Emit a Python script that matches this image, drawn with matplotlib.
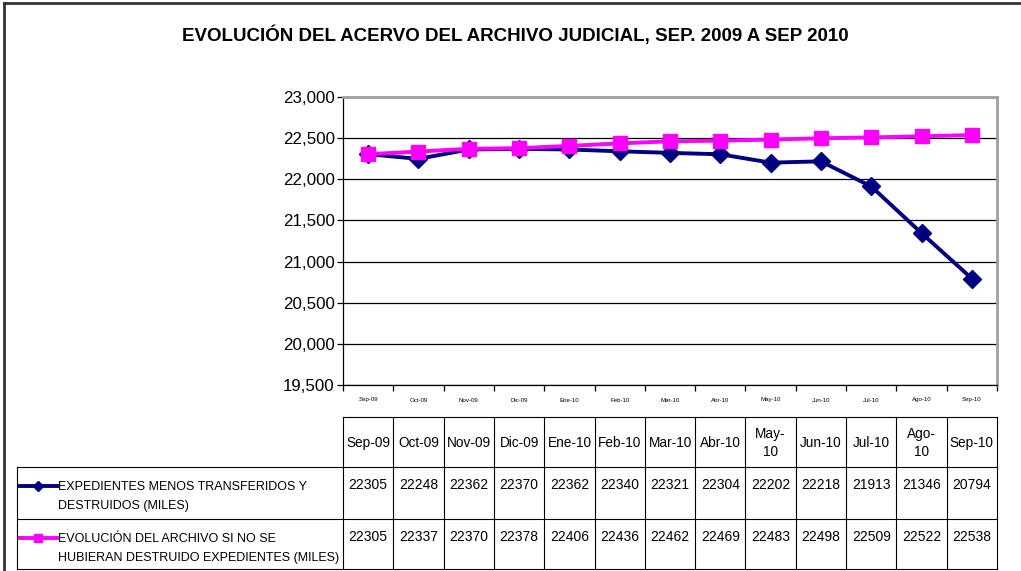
import matplotlib
matplotlib.use('Agg')
import matplotlib.pyplot as plt
from matplotlib.ticker import FuncFormatter, MultipleLocator, FixedLocator

plt.rcParams['font.family'] = ['Liberation Sans', 'DejaVu Sans']

months = ['Sep-09', 'Oct-09', 'Nov-09', 'Dic-09', 'Ene-10', 'Feb-10', 'Mar-10',
          'Abr-10', 'May-10', 'Jun-10', 'Jul-10', 'Ago-10', 'Sep-10']
header_labels = ['Sep-09', 'Oct-09', 'Nov-09', 'Dic-09', 'Ene-10', 'Feb-10', 'Mar-10',
                 'Abr-10', 'May-\n10', 'Jun-10', 'Jul-10', 'Ago-\n10', 'Sep-10']
expedientes = [22305, 22248, 22362, 22370, 22362, 22340, 22321,
               22304, 22202, 22218, 21913, 21346, 20794]
sin_destruir = [22305, 22337, 22370, 22378, 22406, 22436, 22462,
                22469, 22483, 22498, 22509, 22522, 22538]
series_names = ['EXPEDIENTES MENOS TRANSFERIDOS Y\nDESTRUIDOS (MILES)',
                'EVOLUCIÓN DEL ARCHIVO SI NO SE\nHUBIERAN DESTRUIDO EXPEDIENTES (MILES)']
title = 'EVOLUCIÓN DEL ACERVO DEL ARCHIVO JUDICIAL, SEP. 2009 A SEP 2010'

W, H = 1021, 571
navy = '#000080'
magenta = '#FF00FF'

fig = plt.figure(figsize=(W / 100, H / 100), dpi=100)

# plot area in pixels
px0, px1, py0, py1 = 343, 997, 97, 385
ax = fig.add_axes([px0 / W, 1 - py1 / H, (px1 - px0) / W, (py1 - py0) / H])
x = list(range(len(months)))
ax.plot(x, expedientes, color=navy, lw=2.8, marker='D', ms=9, zorder=3)
ax.plot(x, sin_destruir, color=magenta, lw=2.8, marker='s', ms=10.5, zorder=4)
ax.set_xlim(-0.5, len(months) - 0.5)
ax.set_ylim(19500, 23000)
ax.yaxis.set_major_locator(MultipleLocator(500))
ax.yaxis.set_major_formatter(FuncFormatter(lambda v, p: f'{int(v):,}'))
ax.grid(axis='y', color='black', lw=0.9)
ax.set_axisbelow(True)
ax.xaxis.set_major_locator(FixedLocator([i - 0.5 for i in range(len(months) + 1)]))
ax.xaxis.set_minor_locator(FixedLocator(x))
ax.set_xticklabels([])
ax.set_xticklabels(months, minor=True)
ax.tick_params(axis='x', which='major', direction='out', length=4, width=0.9)
ax.tick_params(axis='x', which='minor', length=0, labelsize=4.4, pad=9)
ax.tick_params(axis='y', direction='out', length=4, width=0.9, labelsize=12.2, pad=2)
for s in ['left', 'bottom']:
    ax.spines[s].set_color('black')
    ax.spines[s].set_linewidth(0.9)
for s in ['top', 'right']:
    ax.spines[s].set_color('#a0a0a0')
    ax.spines[s].set_linewidth(2)

# overlay in pixel coords for the table, title and frame
ov = fig.add_axes([0, 0, 1, 1], zorder=-1)
ov.set_xlim(0, W)
ov.set_ylim(H, 0)
ov.axis('off')

ov.plot([3.5, 3.5], [2.5, H], color='#333333', lw=2)
ov.plot([3.5, W], [2.5, 2.5], color='#333333', lw=2)
ov.text(515, 35, title, ha='center', va='center', fontsize=13.5, fontweight='bold')

col_w = (px1 - px0) / len(months)
t_top, h_bot, r1_bot, t_bot = 417, 467, 519, 569
lab_x0 = 17
lc = 'black'
lw = 0.8
# horizontal lines
ov.plot([px0, px1], [t_top, t_top], color=lc, lw=lw)
for yy in [h_bot, r1_bot, t_bot]:
    ov.plot([lab_x0, px1], [yy, yy], color=lc, lw=lw)
# vertical lines
for i in range(len(months) + 1):
    xx = px0 + i * col_w
    ov.plot([xx, xx], [t_top, t_bot], color=lc, lw=lw)
ov.plot([lab_x0, lab_x0], [h_bot, t_bot], color=lc, lw=lw)

for i, lab in enumerate(header_labels):
    cx = px0 + (i + 0.5) * col_w
    ov.text(cx, (t_top + h_bot) / 2 + 1, lab, ha='center', va='center',
            fontsize=9.8, linespacing=1.3)
    ov.text(cx, h_bot + 18, str(expedientes[i]), ha='center', va='center', fontsize=10)
    ov.text(cx, r1_bot + 18, str(sin_destruir[i]), ha='center', va='center', fontsize=10)

rows = [(h_bot, navy, 'D', 5.5, series_names[0]),
        (r1_bot, magenta, 's', 6, series_names[1])]
for top, c, m, ms, name in rows:
    ov.plot([20, 57], [top + 19, top + 19], color=c, lw=2.8)
    ov.plot([38], [top + 19], color=c, marker=m, ms=ms)
    ov.text(58, top + 14, name, ha='left', va='top', fontsize=9.0,
            linespacing=1.75)

fig.savefig('out.png', dpi=100)
